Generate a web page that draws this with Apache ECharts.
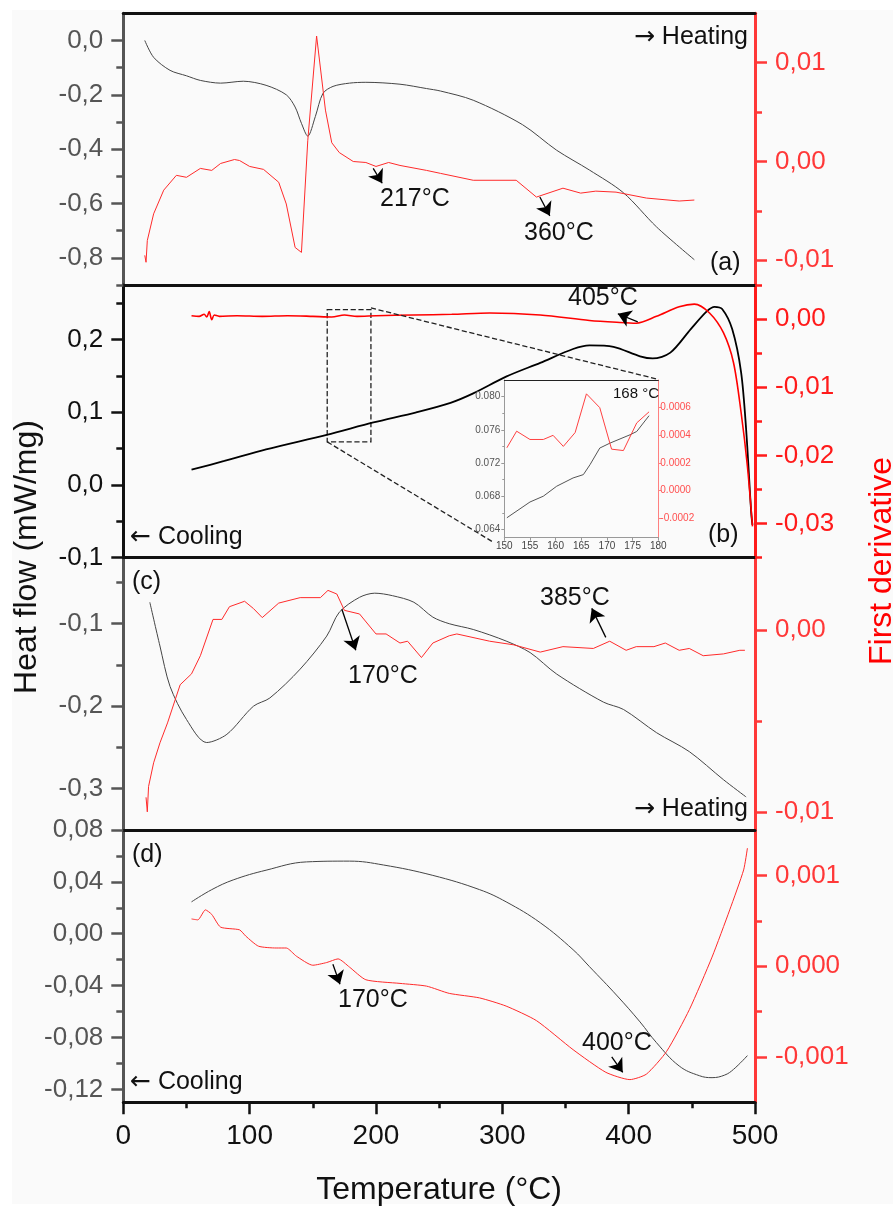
<!DOCTYPE html>
<html>
<head>
<meta charset="utf-8">
<script src="https://cdn.jsdelivr.net/npm/echarts@6.0.0/dist/echarts.min.js"></script>
<style>
html, body { margin: 0; padding: 0; background: #fff; }
#bg { position: absolute; left: 12px; top: 10px; width: 881px; height: 1194px; background: #fafafa; }
#charts { position: absolute; left: 0; top: 0; width: 895px; height: 1208px; }
</style>
</head>
<body>
<div id="bg"></div>
<div id="charts"></div>
<script>
// (a) heating
var aHeatT = [17, 24, 37, 50, 61, 77, 95, 113, 129, 136, 141, 146, 152, 158, 166, 179, 192, 219, 240, 251, 277, 316, 343, 369, 396, 422, 452];
var aHeat = [0.0, -0.062, -0.11, -0.13, -0.147, -0.157, -0.15, -0.165, -0.2, -0.245, -0.305, -0.352, -0.28, -0.195, -0.169, -0.157, -0.154, -0.161, -0.177, -0.186, -0.22, -0.31, -0.404, -0.477, -0.561, -0.686, -0.807];
var aDerT = [17, 18, 19, 24, 32, 42, 50, 61, 70, 77, 88, 92, 100, 111, 123, 129, 136, 141, 146, 153, 160, 165, 171, 182, 192, 200, 210, 219, 240, 251, 277, 311, 327, 348, 362, 374, 390, 414, 440, 452];
var aDer = [-0.0095, -0.0102, -0.008, -0.0053, -0.0029, -0.0014, -0.0016, -0.0007, -0.0009, -0.0002, 0.0002, 0.0001, -0.0005, -0.0008, -0.0021, -0.0043, -0.0087, -0.0092, 0.0021, 0.0127, 0.0052, 0.0019, 0.0009, 0.0, -0.0001, -0.0005, -0.0001, -0.0004, -0.0009, -0.0012, -0.0019, -0.0019, -0.0036, -0.0027, -0.0032, -0.003, -0.0031, -0.0037, -0.004, -0.0039];

// (b) cooling
var bHeatT = [54, 80, 113, 161, 198, 232, 259, 277, 303, 330, 356, 369, 388, 409, 419, 433, 449, 462, 468, 474, 482, 489, 493, 497, 498];
var bHeat = [0.021, 0.033, 0.049, 0.069, 0.086, 0.1, 0.113, 0.126, 0.149, 0.168, 0.187, 0.192, 0.19, 0.177, 0.174, 0.182, 0.214, 0.239, 0.245, 0.242, 0.214, 0.155, 0.076, -0.038, -0.055];
var bDerT = [54, 60, 64, 66, 68, 70, 72, 76, 90, 110, 130, 150, 165, 175, 185, 200, 230, 260, 290, 330, 369, 393, 406, 422, 440, 452, 464, 475, 483, 489, 494, 498];
var bDer = [0.0005, 0.0004, 0.0007, 0.0003, 0.0011, -0.0001, 0.0006, 0.0004, 0.0005, 0.0004, 0.0005, 0.0004, 0.0003, 0.0006, 0.0004, 0.0005, 0.0006, 0.0007, 0.0009, 0.0006, -0.0002, -0.0005, -0.0006, 0.0004, 0.0018, 0.0022, 0.0009, -0.002, -0.0064, -0.0137, -0.0216, -0.0304];

// (b) inset, 150-180 °C
var insT = [150.5, 155, 157.6, 160.2, 163.4, 165.4, 166.7, 168.6, 170.6, 174.5, 175.8, 178.2];
var insHeat = [0.0654, 0.0673, 0.068, 0.0692, 0.0702, 0.0706, 0.0718, 0.0738, 0.0744, 0.0754, 0.0758, 0.0777];
var insDerT = [150.5, 152.4, 155, 157.6, 159.5, 161.5, 163.8, 166, 168.6, 170.9, 173.2, 175.8, 178.2];
var insDer = [0.00031, 0.00043, 0.00037, 0.00037, 0.0004, 0.00032, 0.00042, 0.0007, 0.0006, 0.0003, 0.00029, 0.00049, 0.00057];

// (c) heating
var cHeatT = [21, 29, 37, 50, 66, 82, 103, 116, 140, 161, 171, 187, 199, 213, 230, 245, 258, 277, 303, 322, 343, 380, 396, 422, 448, 475, 493];
var cHeat = [-0.074, -0.127, -0.176, -0.216, -0.244, -0.234, -0.2, -0.19, -0.155, -0.115, -0.086, -0.068, -0.063, -0.066, -0.074, -0.092, -0.1, -0.107, -0.121, -0.135, -0.161, -0.195, -0.204, -0.232, -0.255, -0.289, -0.31];
var cDerT = [18, 19, 20, 24, 29, 35, 45, 54, 61, 71, 78, 84, 96, 103, 110, 123, 140, 156, 162, 169, 175, 187, 200, 208, 219, 225, 236, 245, 258, 264, 290, 309, 330, 348, 372, 385, 398, 406, 420, 429, 440, 448, 459, 475, 488, 492];
var cDer = [-0.0092, -0.01, -0.0086, -0.0073, -0.0062, -0.0051, -0.003, -0.0024, -0.0014, 0.0006, 0.0006, 0.0013, 0.0016, 0.0012, 0.0007, 0.0015, 0.0018, 0.0018, 0.0022, 0.002, 0.0011, 0.0009, -0.0002, -0.0002, -0.0007, -0.0006, -0.0015, -0.0007, -0.0003, -0.0002, -0.0006, -0.0008, -0.0012, -0.0009, -0.001, -0.0006, -0.0011, -0.0009, -0.0009, -0.0007, -0.0011, -0.001, -0.0014, -0.0013, -0.0011, -0.0011];

// (d) cooling
var dHeatT = [54, 70, 87, 113, 145, 179, 206, 245, 282, 303, 330, 356, 369, 391, 409, 422, 440, 456, 466, 476, 483, 494];
var dHeat = [0.0246, 0.034, 0.0415, 0.049, 0.0554, 0.056, 0.053, 0.045, 0.034, 0.0246, 0.0085, -0.0123, -0.0254, -0.048, -0.068, -0.084, -0.102, -0.1095, -0.111, -0.109, -0.1046, -0.094];
var dDerT = [54, 59, 65, 70, 77, 92, 97, 107, 121, 129, 137, 150, 161, 170, 179, 192, 219, 240, 258, 282, 303, 327, 356, 382, 401, 414, 430, 448, 466, 480, 491, 494];
var dDer = [0.00052, 0.00051, 0.00062, 0.00057, 0.00043, 0.0004, 0.00033, 0.00022, 0.0002, 0.0002, 0.00011, 0.00001, 0.00004, 0.00008, -0.00001, -0.00015, -0.00019, -0.00022, -0.0003, -0.00035, -0.00044, -0.0006, -0.00092, -0.00117, -0.00125, -0.00119, -0.00094, -0.00048, 0.0001, 0.00062, 0.00106, 0.0013];

// tick values
var aLeftTicks = [0, -0.2, -0.4, -0.6, -0.8], aLeftMinor = [-0.1, -0.3, -0.5, -0.7, -0.9];
var aRightTicks = [0.01, 0, -0.01], aRightMinor = [0.005, -0.005];
var bLeftTicks = [0.2, 0.1, 0, -0.1], bLeftMinor = [0.25, 0.15, 0.05, -0.05];
var bRightTicks = [0, -0.01, -0.02, -0.03], bRightMinor = [0.005, -0.005, -0.015, -0.025, -0.035];
var cLeftTicks = [-0.1, -0.2, -0.3], cLeftMinor = [-0.05, -0.15, -0.25];
var cRightTicks = [0, -0.01], cRightMinor = [-0.005];
var dLeftTicks = [0.08, 0.04, 0, -0.04, -0.08, -0.12], dLeftMinor = [0.06, 0.02, -0.02, -0.06, -0.1];
var dRightTicks = [0.001, 0, -0.001], dRightMinor = [0.0005, -0.0005];
var insLeftTicks = [0.064, 0.068, 0.072, 0.076, 0.080], insLeftMinor = [0.066, 0.070, 0.074, 0.078];
var insRightTicks = [-0.0002, 0, 0.0002, 0.0004, 0.0006];

var FONT = "'Liberation Sans', Arial, sans-serif";
var GRAY = '#555', RED = '#ff3838';

function zip(t, v) {
    return t.map(function (x, i) { return [x, v[i]]; });
}

// comma decimal labels
function fmt(d, sep) {
    return function (v) {
        if (Math.abs(v) < 1e-12) v = 0;
        var s = v.toFixed(d);
        return sep === '.' ? s : s.replace('.', ',');
    };
}

function yPair(grid, pos, min, max, major, minor, dec, lineColor, labelColor) {
    var main = {
        gridIndex: grid, type: 'value', position: pos, min: min, max: max,
        axisLine: { show: true, onZero: false, lineStyle: { color: lineColor, width: 3 } },
        axisTick: { show: true, length: 12, customValues: major, lineStyle: { color: lineColor, width: 2.5 } },
        axisLabel: { show: true, customValues: major, margin: 20, formatter: fmt(dec), color: labelColor, fontSize: 26, fontFamily: FONT },
        splitLine: { show: false }
    };
    var sub = {
        gridIndex: grid, type: 'value', position: pos, min: min, max: max,
        axisLine: { show: false, onZero: false },
        axisTick: { show: true, length: 7, customValues: minor, lineStyle: { color: lineColor, width: 2.5 } },
        axisLabel: { show: false },
        splitLine: { show: false }
    };
    return [main, sub];
}

function border(grid, pos) {
    return {
        gridIndex: grid, type: 'value', min: 0, max: 500, position: pos,
        axisLine: { onZero: false, lineStyle: { color: '#111', width: 3 } },
        axisTick: { show: false }, axisLabel: { show: false }, splitLine: { show: false }
    };
}

function arrow(p1, p2) {
    return [{ coord: p1 }, { coord: p2 }];
}

var arrowLine = {
    silent: true, symbol: ['none', 'arrow'], symbolSize: 13,
    lineStyle: { color: '#000', width: 1.3, type: 'solid' },
    itemStyle: { color: '#000' },
    label: { show: false }, emphasis: { disabled: true }, animation: false
};

// "→ Heating" style: wide arrow glyph from DejaVu
function txt(x, y, text, extra) {
    return {
        type: 'text', x: x, y: y, silent: true, z: 100,
        style: Object.assign({
            text: text, font: '25px ' + FONT, fill: '#111', align: 'left', verticalAlign: 'middle',
            rich: { ar: { fontFamily: "'DejaVu Sans'", fontSize: 25, fill: '#111' } }
        }, extra || {})
    };
}

var myChart = echarts.init(document.getElementById('charts'), null, { renderer: 'canvas' });

var grids = [
    { left: 123.3, top: 13.3, width: 631.7, height: 271.7, outerBoundsMode: 'none' },
    { left: 123.3, top: 285, width: 631.7, height: 272.7, outerBoundsMode: 'none' },
    { left: 123.3, top: 557.7, width: 631.7, height: 272.3, outerBoundsMode: 'none' },
    { left: 123.3, top: 830, width: 631.7, height: 272.3, outerBoundsMode: 'none' },
    { left: 504.3, top: 380, width: 154, height: 157.7, outerBoundsMode: 'none', show: true, backgroundColor: '#fbfbfb', borderWidth: 0, z: 10 }
];

var xAxes = [
    border(0, 'bottom'),
    border(1, 'bottom'),
    border(2, 'bottom'),
    {
        gridIndex: 3, type: 'value', min: 0, max: 500, interval: 100, position: 'bottom',
        axisLine: { onZero: false, lineStyle: { color: '#111', width: 3 } },
        axisTick: { length: 12, lineStyle: { color: '#111', width: 2.5 } },
        minorTick: { show: true, splitNumber: 2, length: 6, lineStyle: { color: '#111', width: 2.5 } },
        axisLabel: { fontSize: 28, color: '#111', margin: 20, fontFamily: FONT },
        splitLine: { show: false }, minorSplitLine: { show: false },
        name: 'Temperature (°C)', nameLocation: 'middle', nameGap: 72,
        nameTextStyle: { fontSize: 32, color: '#111', fontFamily: FONT }
    },
    border(0, 'top'),
    {
        gridIndex: 4, type: 'value', min: 150, max: 180, interval: 5, position: 'bottom', z: 10,
        axisLine: { onZero: false, lineStyle: { color: '#999', width: 1 } },
        axisTick: { length: 3, lineStyle: { color: '#999' } },
        axisLabel: { fontSize: 10, color: '#444', margin: 4, fontFamily: FONT },
        splitLine: { show: false }
    },
    {
        gridIndex: 4, type: 'value', min: 150, max: 180, position: 'top', z: 10,
        axisLine: { onZero: false, lineStyle: { color: '#222', width: 1 } },
        axisTick: { show: false }, axisLabel: { show: false }, splitLine: { show: false }
    }
];

var yAxes = [].concat(
    yPair(0, 'left', -0.9, 0.1, aLeftTicks, aLeftMinor, 1, GRAY, GRAY),
    yPair(0, 'right', -0.0125, 0.015, aRightTicks, aRightMinor, 2, RED, RED),
    yPair(1, 'left', -0.1, 0.275, bLeftTicks, bLeftMinor, 1, '#111', '#111'),
    yPair(1, 'right', -0.035, 0.005, bRightTicks, bRightMinor, 2, '#ff1a1a', '#ff1a1a'),
    yPair(2, 'left', -0.35, -0.02, cLeftTicks, cLeftMinor, 1, GRAY, GRAY),
    yPair(2, 'right', -0.011, 0.004, cRightTicks, cRightMinor, 2, RED, RED),
    yPair(3, 'left', -0.13, 0.08, dLeftTicks, dLeftMinor, 2, GRAY, GRAY),
    yPair(3, 'right', -0.0015, 0.0015, dRightTicks, dRightMinor, 3, RED, RED)
);
// inset axes: 16 left, 17 left minor, 18 right
yAxes.push(
    {
        gridIndex: 4, type: 'value', position: 'left', min: 0.063, max: 0.082, z: 10,
        axisLine: { show: true, onZero: false, lineStyle: { color: '#999', width: 1 } },
        axisTick: { show: true, length: 3, customValues: insLeftTicks, lineStyle: { color: '#999' } },
        axisLabel: { customValues: insLeftTicks, formatter: fmt(3, '.'), fontSize: 10, color: '#555', margin: 4, fontFamily: FONT },
        splitLine: { show: false }
    },
    {
        gridIndex: 4, type: 'value', position: 'left', min: 0.063, max: 0.082, z: 10,
        axisLine: { show: false, onZero: false },
        axisTick: { show: true, length: 2, customValues: insLeftMinor, lineStyle: { color: '#999' } },
        axisLabel: { show: false }, splitLine: { show: false }
    },
    {
        gridIndex: 4, type: 'value', position: 'right', min: -0.00034, max: 0.0008, z: 10,
        axisLine: { show: true, onZero: false, lineStyle: { color: '#ff8080', width: 1 } },
        axisTick: { show: true, length: 3, customValues: insRightTicks, lineStyle: { color: '#ff8080' } },
        axisLabel: { customValues: insRightTicks, formatter: fmt(4, '.'), fontSize: 10, color: '#ff5050', margin: 2, fontFamily: FONT },
        splitLine: { show: false }
    }
);

function line(xi, yi, data, color, width, smooth, extra) {
    return Object.assign({
        type: 'line', xAxisIndex: xi, yAxisIndex: yi, data: data,
        showSymbol: false, symbol: 'none', smooth: smooth, animation: false,
        lineStyle: { color: color, width: width }, emphasis: { disabled: true }
    }, extra || {});
}

var series = [
    line(0, 0, zip(aHeatT, aHeat), '#444', 1, 0.3),
    line(0, 2, zip(aDerT, aDer), '#ff2a2a', 1, 0, {
        markLine: Object.assign({ data: [arrow([197.8, -0.0007], [204.9, -0.0022]), arrow([329.7, -0.0036], [337.6, -0.0055])] }, arrowLine)
    }),
    line(1, 4, zip(bHeatT, bHeat), '#000', 1.8, 0.3, {
        markArea: {
            silent: true,
            itemStyle: { color: 'rgba(0,0,0,0)', borderColor: '#222', borderWidth: 1.3, borderType: 'dashed' },
            data: [[{ coord: [161.4, 0.241] }, { coord: [196, 0.0593] }]]
        },
        markLine: {
            silent: true, symbol: 'none', animation: false, label: { show: false }, emphasis: { disabled: true },
            lineStyle: { color: '#222', width: 1.3, type: 'dashed' },
            data: [arrow([196, 0.2435], [423.3, 0.1452]), arrow([161.4, 0.0593], [291.8, -0.0776])]
        }
    }),
    line(1, 6, zip(bDerT, bDer), '#ff0000', 1.6, 0.3, {
        markLine: Object.assign({ data: [arrow([407.2, -0.0004], [391.4, 0.00078])] }, arrowLine)
    }),
    line(2, 8, zip(cHeatT, cHeat), '#444', 1, 0.3),
    line(2, 10, zip(cDerT, cDer), '#ff2a2a', 1, 0, {
        markLine: Object.assign({ data: [arrow([173, 0.00116], [184, -0.0011]), arrow([381.9, -0.00039], [370.8, 0.00121])] }, arrowLine)
    }),
    line(3, 12, zip(dHeatT, dHeat), '#444', 1, 0.4),
    line(3, 14, zip(dDerT, dDer), '#ff2a2a', 1, 0.2, {
        markLine: Object.assign({ data: [arrow([165.9, 0.00002], [171.5, -0.0002]), arrow([386.6, -0.001], [395.3, -0.00117])] }, arrowLine)
    }),
    line(5, 16, zip(insT, insHeat), '#555', 1, 0, { z: 12 }),
    line(5, 18, zip(insDerT, insDer), '#ff4040', 1, 0, {
        z: 12,
        markLine: {
            silent: true, symbol: 'none', animation: false, label: { show: false }, emphasis: { disabled: true },
            lineStyle: { color: '#333', width: 1, type: 'solid' },
            data: [arrow([168.1, 0.000663], [170.2, 0.000692])]
        }
    })
];

var graphics = [
    txt(748, 37, '{ar|→} Heating', { align: 'right' }),
    txt(380, 199, '217°C'),
    txt(524, 233, '360°C'),
    txt(710, 263, '(a)'),
    txt(568, 298, '405°C'),
    txt(708, 535, '(b)'),
    txt(130, 537, '{ar|←} Cooling'),
    txt(132, 582, '(c)'),
    txt(540, 598, '385°C'),
    txt(348, 676, '170°C'),
    txt(748, 809, '{ar|→} Heating', { align: 'right' }),
    txt(132, 855, '(d)'),
    txt(338, 1000, '170°C'),
    txt(582, 1043, '400°C'),
    txt(130, 1082, '{ar|←} Cooling'),
    txt(613, 394, '168 °C', { font: '15px ' + FONT }),
    { type: 'text', x: 27, y: 557, rotation: Math.PI / 2, silent: true,
      style: { text: 'Heat flow (mW/mg)', font: '32px ' + FONT, fill: '#111', align: 'center', verticalAlign: 'middle' } },
    { type: 'text', x: 882, y: 561, rotation: Math.PI / 2, silent: true,
      style: { text: 'First derivative', font: '32px ' + FONT, fill: '#ff0000', align: 'center', verticalAlign: 'middle' } }
];

var option = {
    animation: false,
    backgroundColor: 'transparent',
    textStyle: { fontFamily: FONT },
    grid: grids,
    xAxis: xAxes,
    yAxis: yAxes,
    series: series,
    graphic: graphics
};

myChart.setOption(option);
</script>
</body>
</html>
